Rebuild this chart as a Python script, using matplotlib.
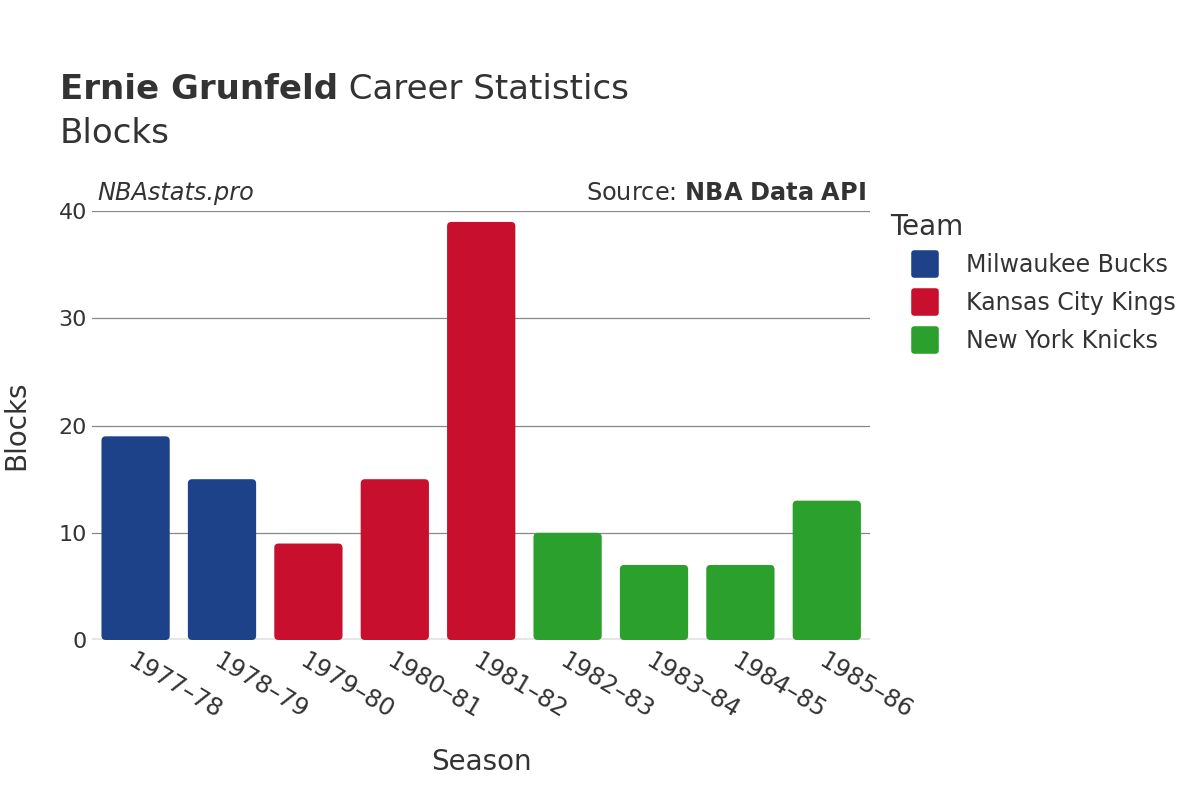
import matplotlib.pyplot as plt
from matplotlib.patches import FancyBboxPatch
from matplotlib.lines import Line2D
from matplotlib.markers import MarkerStyle

# Data
seasons = ["1977–78", "1978–79", "1979–80", "1980–81", "1981–82",
           "1982–83", "1983–84", "1984–85", "1985–86"]
blocks = [19, 15, 9, 15, 39, 10, 7, 7, 13]
teams = ["Milwaukee Bucks", "Milwaukee Bucks", "Kansas City Kings", "Kansas City Kings",
         "Kansas City Kings", "New York Knicks", "New York Knicks", "New York Knicks",
         "New York Knicks"]
team_order = ["Milwaukee Bucks", "Kansas City Kings", "New York Knicks"]
team_colors = {"Milwaukee Bucks": "#1d4289", "Kansas City Kings": "#c8102e",
               "New York Knicks": "#2ca02c"}

TEXT = "#333333"
BAR_WIDTH = 0.79

plt.rcParams["font.family"] = "DejaVu Sans"
fig = plt.figure(figsize=(12, 8), dpi=100)
ax = fig.add_axes([0.077, 0.2, 0.648, 0.536])

ax.set_xlim(-0.5, len(seasons) - 0.5)
ax.set_ylim(0, 40)

# rounded bars
for i, (v, t) in enumerate(zip(blocks, teams)):
    p = FancyBboxPatch((i - BAR_WIDTH / 2, 0), BAR_WIDTH, v,
                       boxstyle="round,pad=0,rounding_size=0.05",
                       mutation_aspect=8, facecolor=team_colors[t],
                       edgecolor="none", zorder=3)
    ax.add_patch(p)

# grid
for y in [10, 20, 30, 40]:
    ax.axhline(y, color="#888888", lw=0.9, zorder=1)
ax.axhline(0, color="#e6e6e6", lw=3, zorder=2)

for s in ax.spines.values():
    s.set_visible(False)
ax.set_yticks([0, 10, 20, 30, 40])
ax.set_xticks(range(len(seasons)))
ax.set_xticklabels(seasons, rotation=-31, ha="left", va="top",
                   rotation_mode="anchor", fontsize=17.5, color=TEXT)
ax.tick_params(axis="y", labelsize=16, labelcolor=TEXT, length=0, pad=4)
ax.tick_params(axis="x", length=0, pad=6)

ax.set_xlabel("Season", fontsize=20, color=TEXT, labelpad=18)
ax.set_ylabel("Blocks", fontsize=20, color=TEXT, labelpad=20)

# titles
t1 = fig.text(0.05, 0.876, "Ernie Grunfeld", fontsize=24.5, fontweight="bold",
              color=TEXT, va="baseline")
ax.annotate(" Career Statistics", xy=(1, 0), xycoords=t1, va="bottom", ha="left",
            fontsize=24.5, color=TEXT, annotation_clip=False)
fig.text(0.05, 0.821, "Blocks", fontsize=24.5, color=TEXT, va="baseline")

fig.text(0.081, 0.75, "NBAstats.pro", fontsize=17.3, style="italic", color=TEXT, va="baseline")
fig.text(0.722, 0.75, "Source: $\\bf{NBA\\ Data\\ API}$", fontsize=17.3, color=TEXT,
         ha="right", va="baseline")

# legend
fig.text(0.742, 0.716, "Team", fontsize=20, color=TEXT, va="center", ha="left")
sq = MarkerStyle("s", joinstyle="round")
handles = [Line2D([0], [0], marker=sq, color="none", markerfacecolor=team_colors[t],
                  markeredgecolor=team_colors[t], markersize=16, markeredgewidth=4)
           for t in team_order]
leg = fig.legend(handles, team_order, loc="upper left", bbox_to_anchor=(0.751, 0.684),
                 frameon=False, fontsize=17, borderpad=0,
                 labelspacing=0.6, handletextpad=0.76, borderaxespad=0)
for txt in leg.get_texts():
    txt.set_color(TEXT)

fig.savefig("out.png", dpi=100)
